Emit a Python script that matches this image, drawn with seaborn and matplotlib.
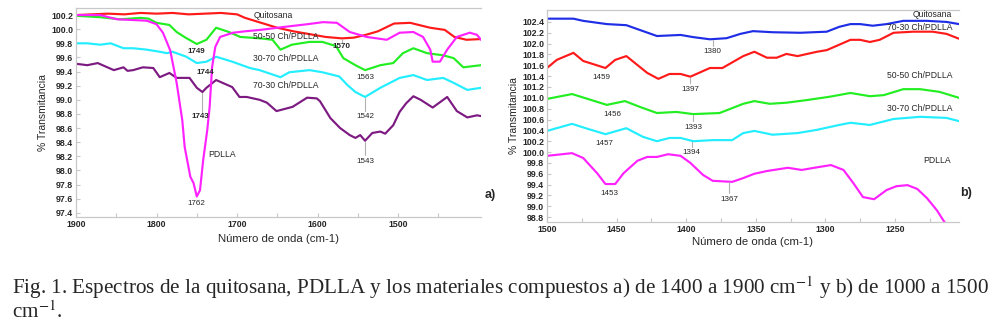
import numpy as np
import matplotlib
matplotlib.use("Agg")
import matplotlib.pyplot as plt
import seaborn as sns

# ---------------- Panel a data (1900 -> 1400 cm-1) ----------------
wa_quit = [1900, 1880, 1860, 1840, 1820, 1800, 1780, 1760, 1740, 1720, 1700, 1690, 1670, 1650,
           1630, 1610, 1590, 1570, 1555, 1540, 1525, 1505, 1485, 1460, 1442, 1430, 1415, 1397]
ya_quit = [100.20, 100.21, 100.22, 100.21, 100.23, 100.22, 100.23, 100.21, 100.22, 100.23, 100.21,
           100.16, 100.09, 100.02, 99.97, 99.93, 99.89, 99.87, 99.88, 99.92, 99.97, 100.08, 100.09,
           100.02, 99.99, 99.89, 99.85, 99.86]

wa_pdlla = [1900, 1870, 1849, 1830, 1812, 1800, 1792, 1783, 1775, 1768, 1765, 1758, 1754, 1750,
            1746, 1742, 1737, 1734, 1731, 1727, 1721, 1705, 1690, 1671, 1643, 1613, 1593, 1576,
            1560, 1539, 1514, 1498, 1481, 1469, 1460, 1457, 1448, 1439, 1427, 1411, 1402, 1397]
ya_pdlla = [100.20, 100.20, 100.14, 100.13, 100.12, 100.07, 99.95, 99.70, 99.24, 98.71, 98.33,
            97.91, 97.82, 97.63, 97.72, 98.15, 98.57, 98.90, 99.46, 99.75, 99.89, 99.95, 99.97,
            99.99, 100.03, 100.07, 100.10, 100.09, 99.96, 99.89, 99.85, 99.95, 99.96, 99.89,
            99.71, 99.54, 99.54, 99.71, 99.89, 99.95, 99.92, 99.85]

wa_5050 = [1900, 1870, 1845, 1820, 1810, 1800, 1784, 1775, 1764, 1750, 1738, 1726, 1710, 1696,
           1671, 1656, 1646, 1632, 1610, 1594, 1577, 1568, 1553, 1541, 1522, 1506, 1494, 1481,
           1464, 1444, 1431, 1419, 1397]
ya_5050 = [100.19, 100.17, 100.14, 100.16, 100.15, 100.09, 100.06, 99.96, 99.88, 99.79, 99.85,
           100.02, 99.96, 99.89, 99.87, 99.85, 99.71, 99.78, 99.82, 99.82, 99.76, 99.59, 99.49,
           99.42, 99.49, 99.52, 99.66, 99.73, 99.66, 99.63, 99.59, 99.46, 99.49]

wa_3070 = [1900, 1886, 1870, 1857, 1841, 1829, 1812, 1796, 1787, 1780, 1763, 1750, 1738, 1726,
           1706, 1684, 1672, 1646, 1635, 1610, 1594, 1573, 1563, 1553, 1541, 1522, 1498, 1481,
           1464, 1444, 1431, 1414, 1397]
ya_3070 = [99.80, 99.80, 99.78, 99.80, 99.73, 99.73, 99.71, 99.68, 99.66, 99.68, 99.61, 99.52,
           99.54, 99.61, 99.54, 99.45, 99.42, 99.32, 99.39, 99.42, 99.39, 99.33, 99.21, 99.11,
           99.04, 99.17, 99.31, 99.35, 99.28, 99.31, 99.24, 99.14, 99.17]

wa_7030 = [1900, 1886, 1873, 1861, 1853, 1841, 1836, 1829, 1817, 1804, 1796, 1784, 1775, 1759,
           1750, 1743, 1738, 1726, 1706, 1697, 1688, 1672, 1663, 1651, 1631, 1613, 1601, 1597,
           1584, 1572, 1560, 1553, 1547, 1541, 1532, 1522, 1516, 1506, 1498, 1490, 1481, 1472,
           1457, 1439, 1427, 1414, 1402, 1397]
ya_7030 = [99.51, 99.49, 99.52, 99.46, 99.42, 99.46, 99.41, 99.42, 99.46, 99.45, 99.32, 99.38,
           99.31, 99.31, 99.17, 99.11, 99.17, 99.28, 99.18, 99.04, 99.04, 99.00, 98.96, 98.84,
           98.90, 99.03, 99.02, 98.98, 98.74, 98.60, 98.50, 98.46, 98.50, 98.42, 98.53, 98.55,
           98.52, 98.64, 98.83, 98.95, 99.05, 99.00, 98.89, 99.04, 98.84, 98.75, 98.78, 98.77]

# ---------------- Panel b data (1500 -> 1204 cm-1) ----------------
wb_quit = [1500, 1481, 1474, 1457, 1443, 1421, 1404, 1395, 1383, 1371, 1361, 1352, 1338, 1318,
           1299, 1290, 1282, 1275, 1266, 1256, 1244, 1227, 1213, 1204]
yb_quit = [102.46, 102.46, 102.42, 102.36, 102.34, 102.14, 102.16, 102.12, 102.08, 102.10, 102.18,
           102.23, 102.21, 102.20, 102.22, 102.31, 102.36, 102.36, 102.33, 102.36, 102.42, 102.42,
           102.40, 102.36]

wb_7030 = [1500, 1493, 1481, 1474, 1458, 1451, 1443, 1428, 1420, 1412, 1404, 1397, 1383, 1374,
           1359, 1351, 1342, 1335, 1328, 1320, 1306, 1299, 1290, 1282, 1275, 1268, 1261, 1251,
           1237, 1223, 1213, 1204]
yb_7030 = [101.55, 101.70, 101.83, 101.68, 101.55, 101.70, 101.77, 101.46, 101.35, 101.44, 101.44,
           101.39, 101.55, 101.55, 101.77, 101.85, 101.74, 101.74, 101.81, 101.77, 101.85, 101.88,
           101.98, 102.07, 102.07, 102.03, 102.07, 102.20, 102.22, 102.22, 102.18, 102.09]

wb_5050 = [1500, 1482, 1457, 1444, 1433, 1421, 1407, 1395, 1376, 1359, 1351, 1340, 1328, 1313,
           1297, 1282, 1268, 1258, 1244, 1232, 1218, 1204]
yb_5050 = [100.98, 101.07, 100.87, 100.94, 100.83, 100.72, 100.74, 100.70, 100.72, 100.89, 100.94,
           100.89, 100.91, 100.96, 101.02, 101.09, 101.03, 101.05, 101.16, 101.16, 101.11, 101.00]

wb_3070 = [1500, 1482, 1471, 1458, 1443, 1431, 1421, 1412, 1404, 1395, 1381, 1367, 1359, 1351,
           1338, 1320, 1306, 1290, 1282, 1268, 1251, 1232, 1213, 1204]
yb_3070 = [100.39, 100.52, 100.43, 100.33, 100.44, 100.28, 100.20, 100.26, 100.26, 100.20, 100.22,
           100.22, 100.35, 100.39, 100.32, 100.35, 100.41, 100.50, 100.54, 100.50, 100.61, 100.65,
           100.63, 100.57]

wb_pdlla = [1500, 1482, 1474, 1464, 1458, 1451, 1445, 1435, 1428, 1421, 1413, 1404, 1397, 1388,
            1381, 1367, 1359, 1351, 1342, 1327, 1317, 1308, 1296, 1287, 1280, 1273, 1265, 1256,
            1249, 1241, 1234, 1227, 1220, 1215, 1204]
yb_pdlla = [99.93, 99.98, 99.89, 99.61, 99.41, 99.41, 99.61, 99.84, 99.91, 99.91, 99.96, 99.93,
            99.80, 99.58, 99.47, 99.45, 99.52, 99.60, 99.65, 99.71, 99.67, 99.71, 99.76, 99.67,
            99.43, 99.17, 99.13, 99.30, 99.37, 99.39, 99.32, 99.15, 98.93, 98.73, 98.35]

series_names = ["Quitosana", "50-50 Ch/PDLLA", "30-70 Ch/PDLLA", "70-30 Ch/PDLLA", "PDLLA"]
yticks_a = [97.4 + 0.2 * i for i in range(15)]
yticks_b = [98.8 + 0.2 * i for i in range(19)]
xticks_a = [1900, 1800, 1700, 1600, 1500]
xticks_b = [1500, 1450, 1400, 1350, 1300, 1250]

caption1 = "Fig. 1. Espectros de la quitosana, PDLLA y los materiales compuestos a) de 1400 a 1900 cm$^{-1}$ y b) de 1000 a 1500"
caption2 = "cm$^{-1}$."

# ---------------- style ----------------
sns.set_theme(style="white")
plt.rcParams["font.family"] = ["Liberation Sans", "DejaVu Sans"]
plt.rcParams["mathtext.fontset"] = "stix"

RED = "#ff1a1a"
GREEN = "#22ee22"
CYAN = "#22eeff"
MAG = "#ff22ff"
PURP = "#7d1a82"
BLUE = "#1f2ee6"
SPINE = "#c8c8c8"
LW = 1.55

fig = plt.figure(figsize=(10.02, 3.29), dpi=100)
ax_a = fig.add_axes([76 / 1002, 1 - 217 / 329, (481 - 76) / 1002, (217 - 8) / 329])
ax_b = fig.add_axes([547 / 1002, 1 - 222 / 329, (959 - 547) / 1002, (222 - 10) / 329])


def style_axes(ax, xpad):
    ax.spines["right"].set_visible(False)
    for s in ["left", "top", "bottom"]:
        ax.spines[s].set_color(SPINE)
        ax.spines[s].set_linewidth(0.9)
    ax.tick_params(axis="both", which="both", direction="in", color=SPINE, length=3, width=0.8,
                   labelsize=6.3, pad=2, left=True, bottom=True)
    for lab in ax.get_xticklabels() + ax.get_yticklabels():
        lab.set_fontweight("bold")
    ax.set_ylabel("% Transmitancia", fontsize=7.5, labelpad=2)
    ax.set_xlabel("Número de onda (cm-1)", fontsize=8.2, labelpad=xpad)
    ax.grid(False)


# panel a
for w, v, c in [(wa_quit, ya_quit, RED), (wa_5050, ya_5050, GREEN), (wa_3070, ya_3070, CYAN),
                (wa_7030, ya_7030, PURP), (wa_pdlla, ya_pdlla, MAG)]:
    sns.lineplot(x=w, y=v, ax=ax_a, color=c, linewidth=LW, legend=False)
ax_a.set_xlim(1900, 1397)
ax_a.set_ylim(97.34, 100.30)
ax_a.set_yticks(yticks_a)
ax_a.set_yticklabels([f"{t:.1f}" for t in yticks_a])
ax_a.set_xticks(xticks_a)
ax_a.set_xticklabels([str(t) for t in xticks_a])
ax_a.set_xticks(np.arange(1450, 1900, 50), minor=True)
style_axes(ax_a, 4)

# line labels a
fs_lab = 6.2
ax_a.text(1680, 100.20, series_names[0], fontsize=fs_lab, va="center", ha="left")
ax_a.text(1680, 99.90, series_names[1], fontsize=fs_lab, va="center", ha="left")
ax_a.text(1680, 99.58, series_names[2], fontsize=fs_lab, va="center", ha="left")
ax_a.text(1680, 99.20, series_names[3], fontsize=fs_lab, va="center", ha="left")
ax_a.text(1736, 98.23, series_names[4], fontsize=fs_lab, va="center", ha="left")

# peak labels a
pk = dict(fontsize=5.8, ha="center", va="center")
ax_a.text(1750, 99.68, "1749", fontweight="bold", **pk)
ax_a.text(1740, 99.38, "1744", fontweight="bold", **pk)
ax_a.text(1745, 98.76, "1743", fontweight="bold", **pk)
ax_a.plot([1743, 1743], [99.10, 98.82], color="#b0b0b0", lw=0.8)
ax_a.text(1750, 97.53, "1762", **pk)
ax_a.text(1570, 99.75, "1570", fontweight="bold", **pk)
ax_a.plot([1570, 1570], [99.86, 99.80], color="#b0b0b0", lw=0.8)
ax_a.text(1541, 99.31, "1563", **pk)
ax_a.text(1541, 98.76, "1542", **pk)
ax_a.plot([1541, 1541], [99.03, 98.84], color="#b0b0b0", lw=0.8)
ax_a.text(1541, 98.13, "1543", **pk)
ax_a.plot([1541, 1541], [98.40, 98.22], color="#b0b0b0", lw=0.8)

# panel b
for w, v, c in [(wb_quit, yb_quit, BLUE), (wb_7030, yb_7030, RED), (wb_5050, yb_5050, GREEN),
                (wb_3070, yb_3070, CYAN), (wb_pdlla, yb_pdlla, MAG)]:
    sns.lineplot(x=w, y=v, ax=ax_b, color=c, linewidth=LW, legend=False)
ax_b.set_xlim(1500, 1204)
ax_b.set_ylim(98.71, 102.62)
ax_b.set_yticks(yticks_b)
ax_b.set_yticklabels([f"{t:.1f}" for t in yticks_b])
ax_b.set_xticks(xticks_b)
ax_b.set_xticklabels([str(t) for t in xticks_b])
ax_b.set_xticks(np.arange(1225, 1500, 25), minor=True)
style_axes(ax_b, 2.5)

ax_b.text(1209, 102.53, "Quitosana", fontsize=fs_lab, va="center", ha="right")
ax_b.text(1209, 102.29, "70-30 Ch/PDLLA", fontsize=fs_lab, va="center", ha="right")
ax_b.text(1209, 101.42, "50-50 Ch/PDLLA", fontsize=fs_lab, va="center", ha="right")
ax_b.text(1209, 100.81, "30-70 Ch/PDLLA", fontsize=fs_lab, va="center", ha="right")
ax_b.text(1210, 99.84, "PDLLA", fontsize=fs_lab, va="center", ha="right")

pkb = dict(fontsize=5.8, ha="center", va="center")
ax_b.text(1381, 101.85, "1380", **pkb)
ax_b.plot([1381, 1381], [102.07, 101.96], color="#b0b0b0", lw=0.8)
ax_b.text(1461, 101.37, "1459", **pkb)
ax_b.text(1397, 101.16, "1397", **pkb)
ax_b.plot([1397, 1397], [101.37, 101.27], color="#b0b0b0", lw=0.8)
ax_b.text(1453, 100.70, "1456", **pkb)
ax_b.text(1395, 100.46, "1393", **pkb)
ax_b.plot([1395, 1395], [100.68, 100.57], color="#b0b0b0", lw=0.8)
ax_b.text(1459, 100.15, "1457", **pkb)
ax_b.text(1396, 100.00, "1394", **pkb)
ax_b.plot([1396, 1396], [100.19, 100.10], color="#b0b0b0", lw=0.8)
ax_b.text(1455, 99.23, "1453", **pkb)
ax_b.text(1369, 99.13, "1367", **pkb)
ax_b.plot([1369, 1369], [99.44, 99.25], color="#b0b0b0", lw=0.8)

fig.text(490 / 1002, 1 - 195 / 329, "a)", fontsize=9, fontweight="bold", ha="center", va="center")
fig.text(966 / 1002, 1 - 193 / 329, "b)", fontsize=9, fontweight="bold", ha="center", va="center")

fig.text(12 / 1002, 1 - 288 / 329, caption1, fontsize=15.2, family="Liberation Serif",
         ha="left", va="center")
fig.text(12 / 1002, 1 - 312 / 329, caption2, fontsize=15.2, family="Liberation Serif",
         ha="left", va="center")

fig.savefig("out.png", dpi=100)
